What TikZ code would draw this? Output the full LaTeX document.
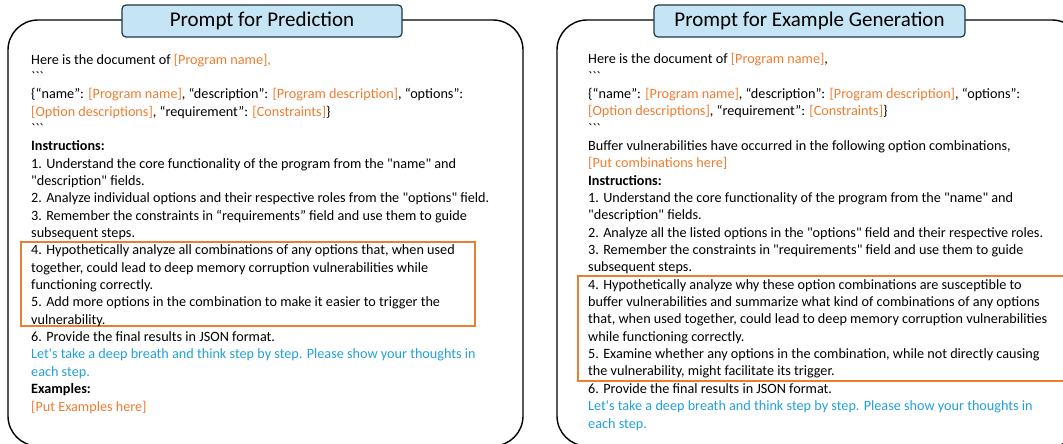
\documentclass[tikz,border=0pt]{standalone}
\usepackage{fontspec}
\setmainfont{Carlito}[Ligatures=TeXOff]
\definecolor{orng}{RGB}{237,125,49}
\definecolor{skyb}{RGB}{35,160,218}
\definecolor{titleFill}{RGB}{197,229,245}
\definecolor{titleDraw}{RGB}{30,55,70}

\begin{document}
\begin{tikzpicture}[x=1pt, y=-1pt, font=\fontsize{14.2}{17.35}\selectfont]
	\tikzstyle{panelStyle} = [draw, line width=1.4pt, rounded corners=30pt, inner sep=0pt]
	\tikzstyle{titleStyle} = [draw=titleDraw, fill=titleFill, line width=1.2pt, rounded corners=4pt, minimum height=32pt, inner sep=0pt, font=\fontsize{21}{25}\selectfont]
	\tikzstyle{textStyle} = [anchor=base west, inner sep=0pt, align=left]
	\tikzstyle{markStyle} = [draw=orng, line width=1.6pt, inner sep=0pt]
	\clip (0,0) rectangle (1063,444);
	\node[panelStyle, minimum width=515pt, minimum height=426pt] (predPanel) at (265.5,233) {};
	\node[panelStyle, minimum width=525pt, minimum height=426pt] (genPanel) at (819.5,233) {};
	\node[markStyle, minimum width=454pt, minimum height=84pt] (predMark) at (248,284) {};
	\node[markStyle, minimum width=497pt, minimum height=105pt] (genMark) at (826.5,328.5) {};
	\node[titleStyle, minimum width=280pt] (predTitle) at (262,21) {Prompt for Prediction};
	\node[titleStyle, minimum width=311pt] (genTitle) at (809.5,21) {Prompt for Example Generation};
	\node[textStyle] (predText) at (31,411) {Here is the document of \textcolor{orng}{[Program name],}\\
		```\\
		\{“name”: \textcolor{orng}{[Program name]}, “description”: \textcolor{orng}{[Program description]}, “options”:\\
		\textcolor{orng}{[Option descriptions]}, “requirement”: \textcolor{orng}{[Constraints]}\}\\
		```\\
		\textbf{Instructions:}\\
		1. Understand the core functionality of the program from the "name" and\\
		"description" fields.\\
		2. Analyze individual options and their respective roles from the "options" field.\\
		3. Remember the constraints in “requirements” field and use them to guide\\
		subsequent steps.\\
		4. Hypothetically analyze all combinations of any options that, when used\\
		together, could lead to deep memory corruption vulnerabilities while\\
		functioning correctly.\\
		5. Add more options in the combination to make it easier to trigger the\\
		vulnerability.\\
		6. Provide the final results in JSON format.\\
		\textcolor{skyb}{Let's take a deep breath and think step by step. Please show your thoughts in}\\
		\textcolor{skyb}{each step.}\\
		\textbf{Examples:}\\
		\textcolor{orng}{[Put Examples here]}};
	\node[textStyle] (genText) at (588,428) {Here is the document of \textcolor{orng}{[Program name]},\\
		```\\
		\{“name”: \textcolor{orng}{[Program name]}, “description”: \textcolor{orng}{[Program description]}, “options”:\\
		\textcolor{orng}{[Option descriptions]}, “requirement”: \textcolor{orng}{[Constraints]}\}\\
		```\\
		Buffer vulnerabilities have occurred in the following option combinations,\\
		\textcolor{orng}{[Put combinations here]}\\
		\textbf{Instructions:}\\
		1. Understand the core functionality of the program from the "name" and\\
		"description" fields.\\
		2. Analyze all the listed options in the "options" field and their respective roles.\\
		3. Remember the constraints in "requirements" field and use them to guide\\
		subsequent steps.\\
		4. Hypothetically analyze why these option combinations are susceptible to\\
		buffer vulnerabilities and summarize what kind of combinations of any options\\
		that, when used together, could lead to deep memory corruption vulnerabilities\\
		while functioning correctly.\\
		5. Examine whether any options in the combination, while not directly causing\\
		the vulnerability, might facilitate its trigger.\\
		6. Provide the final results in JSON format.\\
		\textcolor{skyb}{Let's take a deep breath and think step by step. Please show your thoughts in}\\
		\textcolor{skyb}{each step.}};
\end{tikzpicture}
\end{document}
